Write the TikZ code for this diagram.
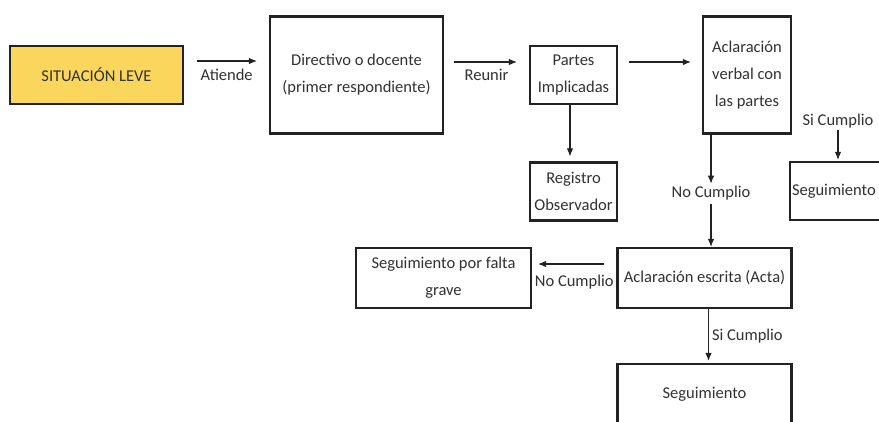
\documentclass[tikz,border=0pt]{standalone}
\usepackage{fontspec}
\setmainfont{Carlito}
\usetikzlibrary{arrows.meta}

\definecolor{amarillo}{RGB}{250,214,92}
\definecolor{borde}{RGB}{34,34,34}
\definecolor{letra}{RGB}{50,50,50}

\begin{document}
\begin{tikzpicture}[x=1pt,y=-1pt,
  caja/.style={draw=borde,line width=2.2pt,fill=white,text=letra,align=center,
    inner sep=2pt,font=\fontsize{16.5}{27}\selectfont},
  texto/.style={text=letra,inner sep=2pt,font=\fontsize{16.5}{27}\selectfont},
  flecha/.style={draw=borde,line width=1.1pt,-{Latex[length=8pt,width=6.5pt]}}]

\clip (0,0) rectangle (879,421);

\fill [white] (0,0) rectangle (879,421);

% cajas
\node [caja,fill=amarillo,line width=2.8pt,minimum width=173,minimum height=58] (leve) at (96.5,75) {SITUACIÓN LEVE};

\node [caja,minimum width=173,minimum height=117] (directivo) at (356.5,75) {Directivo o docente\\(primer respondiente)};

\node [caja,minimum width=87,minimum height=58] (partes) at (573.5,75) {Partes\\Implicadas};

\node [caja,minimum width=88,minimum height=117] (verbal) at (747,75) {Aclaración\\verbal con\\las partes};

\node [caja,minimum width=92,minimum height=58,text width=88,align=left] (segder) at (836,191) {Seguimiento};

\node [caja,minimum width=87,minimum height=58] (registro) at (573.5,191.5) {Registro\\Observador};

\node [caja,minimum width=174,minimum height=60] (escrita) at (704.5,278) {Aclaración escrita (Acta)};

\node [caja,minimum width=175,minimum height=60] (grave) at (443.5,278) {Seguimiento por falta\\grave};

\node [caja,minimum width=174,minimum height=60] (segbot) at (704.5,394) {Seguimiento};

% etiquetas sueltas
\node [texto] (nc1) at (711,193) {No Cumplio};

\node [texto] (sc1) at (838,121) {Si Cumplio};

% flechas
\draw [flecha,shorten <=13pt,shorten >=12pt] ([yshift=14pt]leve.east) -- node [texto,below=5pt] {Atiende} ([yshift=14pt]directivo.west);

\draw [flecha,shorten <=10pt,shorten >=12pt] ([yshift=13pt]directivo.east) -- node [texto,below=5pt] {Reunir} ([yshift=13pt]partes.west);

\draw [flecha,shorten <=11pt,shorten >=11pt] ([yshift=13pt]partes.east) -- ([yshift=13pt]verbal.west);

\draw [flecha,shorten >=5pt] ([xshift=-3.5pt]partes.south) -- ([xshift=-3.5pt]registro.north);

\draw [flecha] (verbal.south -| nc1) -- (nc1.north);

\draw [flecha,shorten <=2pt] (nc1.south) -- (escrita.north -| nc1);

\draw [flecha,shorten >=1pt] (sc1.south) -- (segder.north -| sc1);

\draw [flecha,shorten >=2pt] ([xshift=4pt]escrita.south) -- node [texto,right=1pt] {Si Cumplio} ([xshift=4pt]segbot.north);

\draw [flecha,shorten <=12pt,shorten >=6pt] ([yshift=14pt]escrita.west) -- node [texto,below=8pt] {No Cumplio} ([yshift=14pt]grave.east);

\end{tikzpicture}
\end{document}
